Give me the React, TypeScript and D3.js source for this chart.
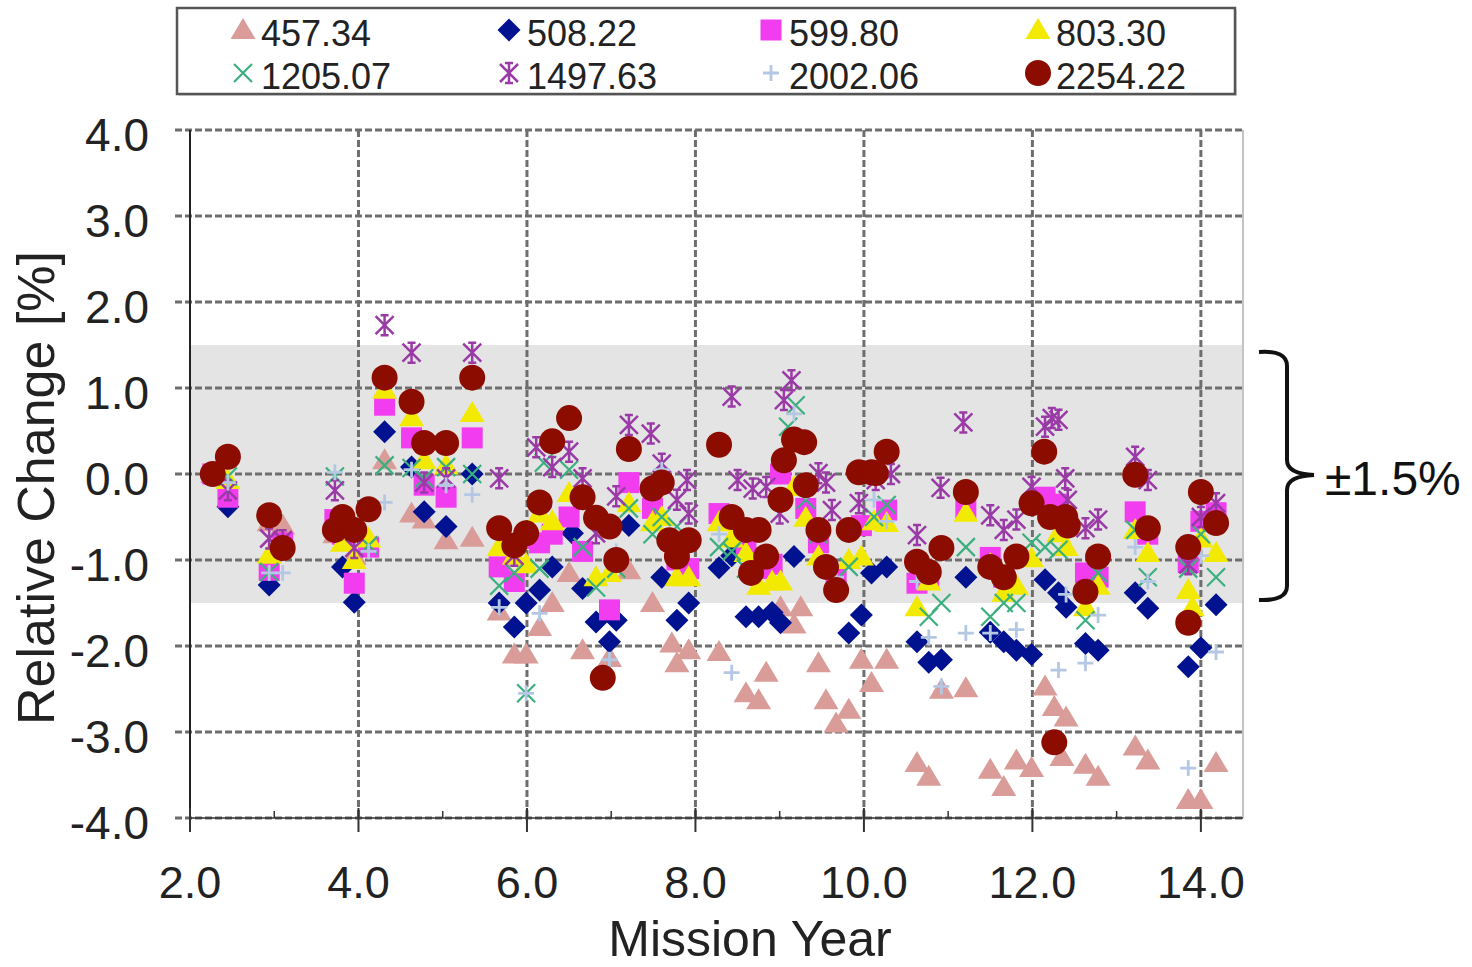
import React from "react";
import * as d3 from "d3";

// legend labels (wavelengths)
const seriesNames = ["457.34", "508.22", "599.80", "803.30", "1205.07", "1497.63", "2002.06", "2254.22"];

// [mission year, relative change %]
const s457: [number, number][] = [
  [2.27, 0.0], [2.94, -0.56], [3.1, -0.6], [3.72, -0.7], [3.95, -0.95], [4.31, 0.16], [4.63, -0.46],
  [4.78, -0.53], [5.04, -0.77], [5.35, -0.74], [5.67, -1.6], [5.85, -2.1], [5.99, -2.1], [6.15, -1.78],
  [6.3, -1.5], [6.5, -1.15], [6.66, -2.05], [6.98, -2.14], [7.21, -1.12], [7.49, -1.5], [7.72, -1.97],
  [7.78, -2.2], [7.92, -2.05], [8.28, -2.07], [8.6, -2.55], [8.75, -2.63], [8.84, -2.31], [9.01, -1.55],
  [9.17, -1.75], [9.25, -1.55], [9.46, -2.2], [9.55, -2.63], [9.67, -2.9], [9.82, -2.74], [9.97, -2.16],
  [10.09, -2.43], [10.27, -2.16], [10.63, -3.36], [10.77, -3.52], [10.92, -2.51], [11.21, -2.49],
  [11.5, -3.44], [11.66, -3.64], [11.81, -3.33], [11.99, -3.42], [12.15, -2.47], [12.26, -2.71],
  [12.35, -3.29], [12.4, -2.83], [12.63, -3.38], [12.78, -3.52], [13.22, -3.17], [13.37, -3.33],
  [13.85, -3.79], [14.0, -3.79], [14.18, -3.36],
];
const s508: [number, number][] = [
  [2.45, -0.38], [2.94, -1.29], [3.81, -1.08], [3.95, -1.49], [4.31, 0.49], [4.63, 0.08], [4.78, -0.44],
  [5.04, -0.61], [5.35, 0.0], [5.67, -1.5], [5.85, -1.78], [5.99, -1.5], [6.15, -1.35], [6.3, -1.08],
  [6.54, -0.69], [6.66, -1.33], [6.82, -1.72], [6.98, -1.95], [7.06, -1.7], [7.21, -0.6], [7.6, -1.2],
  [7.78, -1.7], [7.92, -1.5], [8.28, -1.09], [8.43, -0.95], [8.6, -1.66], [8.75, -1.66], [8.91, -1.61],
  [9.01, -1.73], [9.17, -0.96], [9.82, -1.85], [9.97, -1.64], [10.09, -1.15], [10.27, -1.08],
  [10.63, -1.95], [10.77, -2.19], [10.92, -2.16], [11.21, -1.2], [11.5, -1.84], [11.66, -1.95],
  [11.81, -2.05], [11.99, -2.1], [12.15, -1.23], [12.31, -1.38], [12.4, -1.55], [12.63, -1.97],
  [12.78, -2.05], [13.22, -1.38], [13.37, -1.56], [13.85, -2.24], [14.0, -2.02], [14.18, -1.52],
];
const s599: [number, number][] = [
  [2.27, 0.0], [2.45, -0.27], [2.94, -1.12], [3.1, -0.8], [3.72, -0.53], [3.81, -0.7], [3.95, -1.27],
  [4.12, -0.85], [4.31, 0.8], [4.63, 0.42], [4.78, -0.13], [5.04, -0.27], [5.35, 0.42], [5.67, -1.08],
  [5.85, -1.25], [5.99, -0.75], [6.15, -0.8], [6.3, -0.7], [6.5, -0.5], [6.66, -0.9], [6.98, -1.58],
  [7.21, -0.1], [7.49, -0.4], [7.78, -1.0], [7.92, -1.1], [8.28, -0.46], [8.6, -0.9], [8.75, -1.1],
  [8.91, -1.05], [9.01, 0.0], [9.31, -0.4], [9.46, -0.8], [9.67, -1.2], [9.97, -0.6], [10.27, -0.42],
  [10.63, -1.27], [10.77, -1.2], [11.21, -0.4], [11.5, -0.97], [11.66, -1.2], [12.15, -0.27],
  [12.31, -0.35], [12.63, -1.15], [12.78, -1.2], [13.22, -0.44], [13.37, -0.7], [13.85, -1.03],
  [14.0, -0.55], [14.18, -0.45],
];
const s803: [number, number][] = [
  [2.45, -0.07], [2.94, -0.94], [3.81, -0.8], [3.95, -1.0], [4.12, -0.75], [4.31, 0.98], [4.63, 0.66],
  [4.78, 0.16], [5.04, 0.1], [5.35, 0.71], [5.67, -0.85], [5.85, -0.95], [5.99, -1.05], [6.15, -0.46],
  [6.3, -0.55], [6.5, -0.22], [6.82, -1.2], [6.98, -1.15], [7.21, -0.34], [7.49, -0.56], [7.6, -0.5],
  [7.78, -1.2], [7.92, -1.2], [8.28, -0.56], [8.43, -0.75], [8.6, -0.92], [8.75, -1.3], [8.91, -1.25],
  [9.01, -1.25], [9.17, -0.15], [9.31, -0.51], [9.46, -0.96], [9.67, -1.3], [9.82, -1.0], [9.97, -0.96],
  [10.12, -0.55], [10.27, -0.57], [10.63, -1.55], [10.77, -1.25], [11.21, -0.45], [11.5, -1.05],
  [11.66, -1.38], [11.81, -1.3], [11.99, -0.98], [12.31, -0.69], [12.4, -0.85], [12.63, -1.55],
  [12.78, -1.3], [13.22, -0.65], [13.37, -0.92], [13.85, -1.35], [13.9, -1.55], [14.0, -0.75],
  [14.18, -0.92],
];
const s1205: [number, number][] = [
  [2.45, -0.03], [2.94, -1.14], [3.72, -0.03], [4.12, -0.83], [4.31, 0.1], [4.63, 0.07], [4.78, -0.05],
  [5.04, 0.08], [5.35, 0.0], [5.67, -1.3], [5.85, -1.15], [5.99, -2.55], [6.15, -1.1], [6.2, 0.13],
  [6.5, 0.05], [6.66, -0.85], [6.82, -1.32], [7.06, -1.1], [7.21, -0.4], [7.49, -0.7], [7.6, -0.5],
  [7.78, -0.61], [8.28, -0.85], [8.43, -0.9], [8.6, -1.1], [9.1, 0.55], [9.19, 0.8], [9.31, -0.3],
  [9.46, -0.7], [9.82, -1.08], [10.12, -0.5], [10.27, -0.36], [10.77, -1.66], [10.92, -1.5],
  [11.21, -0.85], [11.5, -1.66], [11.66, -1.5], [11.81, -1.5], [11.99, -0.8], [12.15, -0.85],
  [12.31, -0.88], [12.63, -1.7], [12.78, -1.15], [13.22, -0.65], [13.37, -1.2], [13.85, -1.1],
  [14.0, -0.7], [14.18, -1.2],
];
const s1497: [number, number][] = [
  [2.45, -0.19], [2.94, -0.75], [3.1, -0.77], [3.72, -0.19], [3.95, -0.86], [4.31, 1.73], [4.63, 1.41],
  [4.78, -0.1], [5.04, -0.05], [5.35, 1.41], [5.67, -0.05], [5.85, -0.95], [6.11, 0.31], [6.3, 0.08],
  [6.5, 0.26], [6.66, -0.05], [6.82, -0.69], [7.06, -0.26], [7.21, 0.57], [7.47, 0.47], [7.6, 0.12],
  [7.78, -0.3], [7.9, -0.07], [7.92, -0.46], [8.43, 0.9], [8.5, -0.07], [8.68, -0.17], [8.84, -0.15],
  [9.0, -0.46], [9.05, 0.86], [9.14, 1.09], [9.46, 0.01], [9.55, -0.1], [9.62, -0.42], [9.94, -0.34],
  [10.14, -0.07], [10.32, 0.0], [10.63, -0.71], [10.91, -0.16], [11.18, 0.6], [11.5, -0.48],
  [11.66, -0.65], [11.81, -0.53], [11.99, -0.15], [12.15, 0.55], [12.23, 0.65], [12.31, 0.63],
  [12.39, -0.05], [12.42, -0.3], [12.63, -0.63], [12.78, -0.53], [13.22, 0.2], [13.37, -0.07],
  [13.85, -1.05], [14.0, -0.5], [14.18, -0.34],
];
const s2002: [number, number][] = [
  [2.45, -0.1], [2.94, -1.15], [3.1, -1.15], [3.72, 0.02], [4.12, -0.9], [4.31, -0.33], [4.63, 0.05],
  [5.04, -0.13], [5.35, -0.24], [5.67, -1.55], [5.99, -2.55], [6.15, -1.62], [6.35, 0.4], [6.98, -2.16],
  [7.06, -0.9], [7.6, 0.05], [7.78, -0.95], [8.28, -0.7], [8.43, -2.31], [8.75, -0.6], [9.05, 0.2],
  [9.17, 0.7], [9.31, -0.2], [9.67, -1.2], [10.12, -0.3], [10.27, -0.55], [10.63, -1.25], [10.77, -1.9],
  [10.92, -2.47], [11.21, -1.85], [11.5, -1.85], [11.81, -1.81], [12.31, -2.28], [12.4, -1.4],
  [12.63, -2.2], [12.78, -1.64], [13.22, -0.85], [13.37, -1.25], [13.85, -3.42], [14.0, -0.95],
  [14.18, -2.07],
];
const s2254: [number, number][] = [
  [2.27, 0.0], [2.45, 0.2], [2.94, -0.48], [3.1, -0.86], [3.72, -0.65], [3.81, -0.5], [3.95, -0.65],
  [4.12, -0.41], [4.31, 1.12], [4.63, 0.84], [4.78, 0.36], [5.04, 0.36], [5.35, 1.12], [5.67, -0.63],
  [5.85, -0.83], [5.99, -0.69], [6.15, -0.33], [6.3, 0.38], [6.5, 0.65], [6.66, -0.27], [6.82, -0.51],
  [6.9, -2.37], [6.98, -0.61], [7.06, -1.0], [7.21, 0.29], [7.49, -0.17], [7.6, -0.1], [7.69, -0.77],
  [7.78, -0.96], [7.92, -0.77], [8.28, 0.34], [8.43, -0.5], [8.6, -0.65], [8.66, -1.15], [8.75, -0.65],
  [8.84, -0.96], [9.01, -0.3], [9.05, 0.16], [9.17, 0.4], [9.29, 0.37], [9.31, -0.13], [9.46, -0.65],
  [9.55, -1.08], [9.67, -1.35], [9.82, -0.65], [9.94, 0.02], [10.09, 0.02], [10.14, 0.01], [10.27, 0.26],
  [10.63, -1.02], [10.77, -1.14], [10.92, -0.86], [11.21, -0.21], [11.5, -1.08], [11.66, -1.2],
  [11.81, -0.96], [11.99, -0.34], [12.14, 0.26], [12.21, -0.5], [12.26, -3.12], [12.39, -0.5],
  [12.42, -0.6], [12.63, -1.37], [12.78, -0.96], [13.22, -0.01], [13.37, -0.63], [13.85, -0.85],
  [13.85, -1.73], [14.0, -0.21], [14.18, -0.57],
];

const yTicks = [4, 3, 2, 1, 0, -1, -2, -3, -4];
const xTicks = [2, 4, 6, 8, 10, 12, 14];
const xMinor = [3, 5, 7, 9, 11, 13];
const bandRange = [-1.5, 1.5];

const colors = ["#d99c98", "#00128f", "#f23cf0", "#f2ea00", "#3caf7f", "#9a3aa6", "#b4c8e4", "#8c0c00"];
const allSeries = [s457, s508, s599, s803, s1205, s1497, s2002, s2254];

const FONT = "'Liberation Sans', Arial, Helvetica, sans-serif";

function Marker({ kind, color, x, y }: { kind: number; color: string; x: number; y: number }) {
  const t = `translate(${x},${y})`;
  switch (kind) {
    case 0:
    case 3:
      return <path transform={t} d="M0,-12L12.5,9L-12.5,9Z" fill={color} />;
    case 1:
      return <path transform={t} d="M0,-11.5L11.5,0L0,11.5L-11.5,0Z" fill={color} />;
    case 2:
      return <rect x={x - 10.5} y={y - 10.5} width={21} height={21} fill={color} />;
    case 4:
      return <path transform={t} d="M-9,-9L9,9M9,-9L-9,9" stroke={color} strokeWidth={2.2} fill="none" />;
    case 5:
      return (
        <path transform={t} d="M-9,-9L9,9M9,-9L-9,9M0,-10L0,10M-4,-10L4,-10M-4,10L4,10" stroke={color} strokeWidth={2.5} fill="none" />
      );
    case 6:
      return <path transform={t} d="M-8,0L8,0M0,-8L0,8" stroke={color} strokeWidth={2.8} fill="none" />;
    default:
      return <circle cx={x} cy={y} r={13} fill={color} />;
  }
}

export default function App() {
  const x = d3.scaleLinear().domain([2, 14.5]).range([190, 1243]);
  const y = d3.scaleLinear().domain([-4, 4]).range([818, 130]);
  const dash = "7,3";
  const grid = "#6e6e6e";

  const legendCols = [243, 509, 771, 1038];
  const legendRows = [30, 73];

  return (
    <svg width={1472} height={967} style={{ position: "absolute", left: 0, top: 0, background: "#fff" }}>
      {/* legend */}
      <rect x={179} y={10} width={1058} height={86} fill="#d8d8d8" />
      <rect x={177} y={8} width={1058} height={86} fill="#fff" stroke="#555" strokeWidth={2.5} />
      {seriesNames.map((name, i) => {
        const cx = legendCols[i % 4];
        const cy = legendRows[Math.floor(i / 4)];
        return (
          <g key={name}>
            <Marker kind={i} color={colors[i]} x={cx} y={cy} />
            <text x={cx + 18} y={cy + 16} fontFamily={FONT} fontSize={36} fill="#222">
              {name}
            </text>
          </g>
        );
      })}

      {/* band */}
      <rect
        x={x(2)}
        y={y(bandRange[1])}
        width={x(14.5) - x(2)}
        height={y(bandRange[0]) - y(bandRange[1])}
        fill="#e4e4e4"
      />

      {/* grid */}
      {yTicks.map((t) => (
        <line key={"gy" + t} x1={175} x2={x(14.5)} y1={y(t)} y2={y(t)} stroke={grid} strokeWidth={3} strokeDasharray={dash} />
      ))}
      {xTicks.slice(1).map((t) => (
        <line key={"gx" + t} x1={x(t)} x2={x(t)} y1={y(4)} y2={y(-4)} stroke={grid} strokeWidth={3} strokeDasharray={dash} />
      ))}
      <line x1={x(14.5)} x2={x(14.5)} y1={y(4)} y2={y(-4)} stroke="#c4c4c4" strokeWidth={2} />

      {/* axes */}
      <line x1={x(2)} x2={x(2)} y1={y(4)} y2={y(-4) + 14} stroke="#222" strokeWidth={2} />
      <line x1={x(2)} x2={x(14.5)} y1={y(-4)} y2={y(-4)} stroke="#333" strokeWidth={1.5} />
      {xTicks.map((t) => (
        <line key={"xt" + t} x1={x(t)} x2={x(t)} y1={y(-4) - 10} y2={y(-4) + 14} stroke="#333" strokeWidth={2} />
      ))}
      {xMinor.map((t) => (
        <line key={"xm" + t} x1={x(t)} x2={x(t)} y1={y(-4) - 7} y2={y(-4)} stroke="#333" strokeWidth={1.5} />
      ))}

      {/* points */}
      {allSeries.map((s, i) => (
        <g key={"s" + i}>
          {s.map(([a, b], j) => (
            <Marker key={j} kind={i} color={colors[i]} x={x(a)} y={y(b)} />
          ))}
        </g>
      ))}

      {/* tick labels */}
      {yTicks.map((t) => (
        <text key={"yl" + t} x={149} y={y(t) + 21} textAnchor="end" fontFamily={FONT} fontSize={46} fill="#222">
          {t.toFixed(1)}
        </text>
      ))}
      {xTicks.map((t) => (
        <text key={"xl" + t} x={x(t)} y={898} textAnchor="middle" fontFamily={FONT} fontSize={45} fill="#222">
          {t.toFixed(1)}
        </text>
      ))}

      <text x={750} y={956} textAnchor="middle" fontFamily={FONT} fontSize={50} fill="#222">
        Mission Year
      </text>
      <text
        transform="translate(54,488) rotate(-90)"
        textAnchor="middle"
        fontFamily={FONT}
        fontSize={52}
        fill="#222"
      >
        Relative Change [%]
      </text>

      {/* bracket */}
      <path
        d="M1259,352 Q1287,350 1287,366 L1287,460 Q1287,474 1314,475 Q1287,476 1287,490 L1287,586 Q1287,601 1259,600"
        fill="none"
        stroke="#111"
        strokeWidth={4}
      />
      <text x={1325} y={495} fontFamily={FONT} fontSize={48} fill="#111">
        ±1.5%
      </text>
    </svg>
  );
}
